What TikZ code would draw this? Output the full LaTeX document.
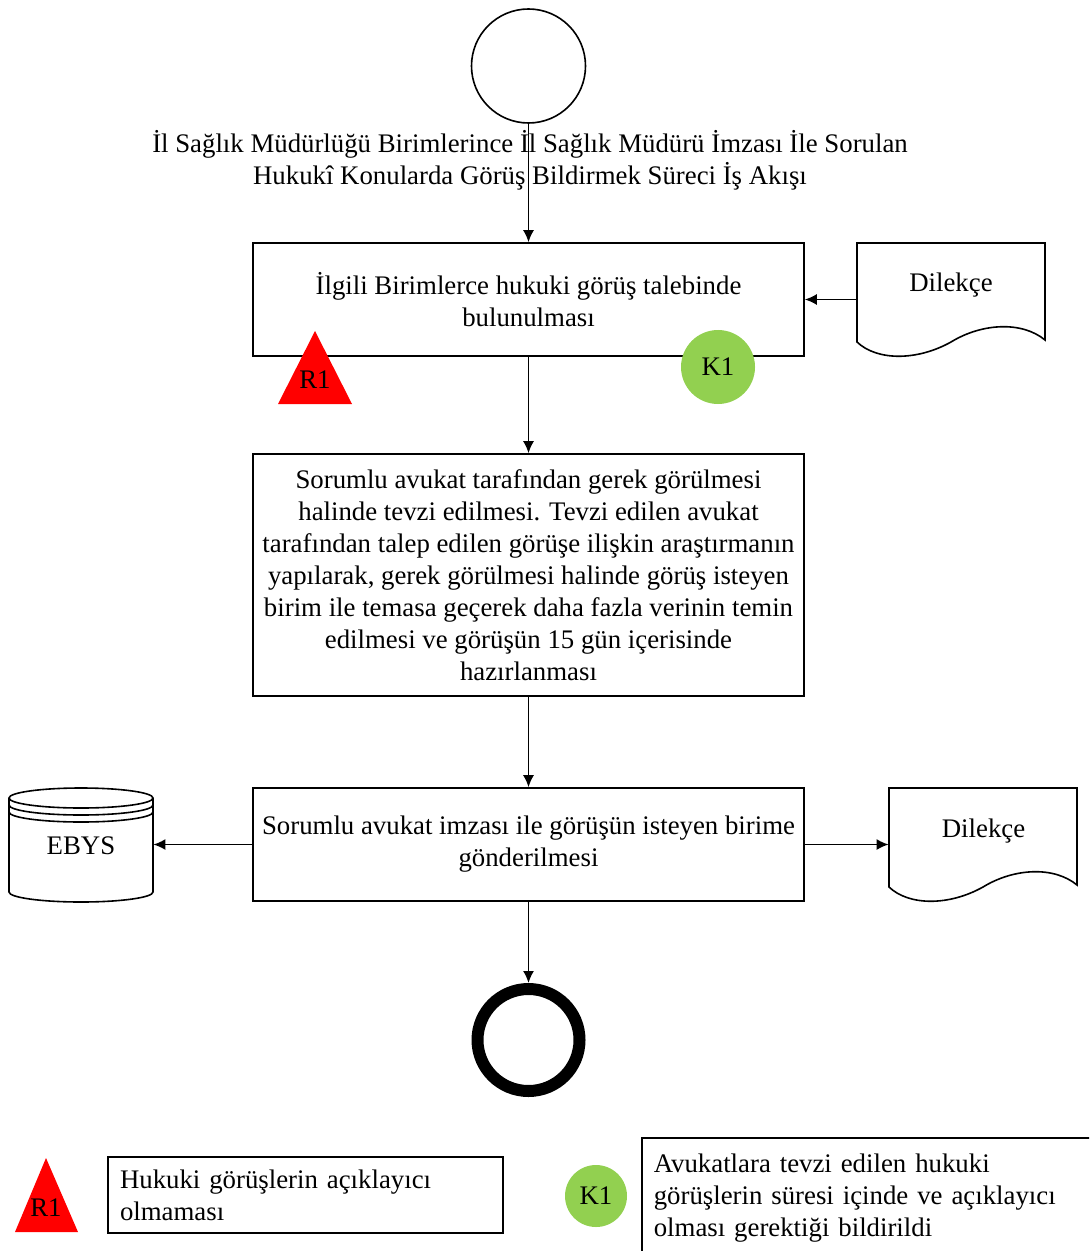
\documentclass[tikz,border=0pt]{standalone}
\usepackage{fontspec}
\setmainfont{Liberation Serif}
\usetikzlibrary{arrows.meta}

\definecolor{riskred}{RGB}{255,0,0}
\definecolor{ctrlgreen}{RGB}{146,208,80}
\newcommand{\flowfont}{\fontsize{13.4}{16}\selectfont}

\tikzset{
    flowbox/.style={draw, line width=0.8pt, minimum width=275.5pt, align=center, font=\flowfont},
    termin/.style={draw, circle, line width=0.8pt, minimum size=57pt, inner sep=0pt},
    flowarrow/.style={line width=0.8pt, -{Latex[length=6pt,width=5.5pt]}},
    notebox/.style={draw, line width=0.8pt, align=left, font=\flowfont, inner xsep=6pt},
    docshape/.pic={
        \draw[line width=0.8pt] (0,99) .. controls (20,118) and (60,118) .. (94,99)
            .. controls (125,80) and (165,78) .. (188,97) -- (188,0) -- (0,0) -- cycle;
    },
    dbshape/.pic={
        \draw[line width=0.8pt] (72,10) ellipse [x radius=36pt, y radius=5pt];
        \draw[line width=0.8pt] (0,17) arc [start angle=180, end angle=360, x radius=36pt, y radius=5pt];
        \draw[line width=0.8pt] (0,24) arc [start angle=180, end angle=360, x radius=36pt, y radius=5pt];
        \draw[line width=0.8pt] (0,10) -- (0,104) arc [start angle=180, end angle=360, x radius=36pt, y radius=5pt] -- (144,10);
    }
}

\begin{document}
\begin{tikzpicture}[x=0.5pt, y=-0.5pt]
    \clip (0,0) rectangle (1089,1251);

    % Start and end
    \node[termin] (start) at (528.5,66) {};
    \node[draw, circle, line width=6pt, minimum size=51pt, inner sep=0pt] (end) at (528.5,1040) {};

    \node[align=center, font=\flowfont] (title) at (530,160)
        {İl Sağlık Müdürlüğü Birimlerince İl Sağlık Müdürü İmzası İle Sorulan\\
         Hukukî Konularda Görüş Bildirmek Süreci İş Akışı};

    % Process boxes
    \node[flowbox, minimum height=56.5pt] (b1) at (528.5,299.5)
        {İlgili Birimlerce hukuki görüş talebinde\\ bulunulması};
    \node[flowbox, minimum height=121pt] (b2) at (528.5,575)
        {Sorumlu avukat tarafından gerek görülmesi\\
         halinde tevzi edilmesi. Tevzi edilen avukat\\
         tarafından talep edilen görüşe ilişkin araştırmanın\\
         yapılarak, gerek görülmesi halinde görüş isteyen\\
         birim ile temasa geçerek daha fazla verinin temin\\
         edilmesi ve görüşün 15 gün içerisinde\\
         hazırlanması};
    \node[flowbox, minimum height=56.5pt] (b3) at (528.5,844.5)
        {Sorumlu avukat imzası ile görüşün isteyen birime\\ gönderilmesi};

    % Documents and database
    \pic at (857,243) {docshape};
    \node[font=\flowfont, minimum width=94pt, inner sep=0pt] (d1) at (951,285) {Dilekçe};
    \pic at (889,788) {docshape};
    \node[font=\flowfont, minimum width=94.5pt, inner sep=0pt] (d2) at (983.5,831) {Dilekçe};
    \pic at (9,788) {dbshape};
    \node[font=\flowfont, minimum width=72pt, inner sep=0pt] (ebys) at (81,846) {EBYS};

    % Risk and control marks
    \fill[riskred] (278,404) -- (315,331) -- (352,404) -- cycle;
    \node[font=\flowfont] (r1) at (315,380) {R1};
    \node[circle, fill=ctrlgreen, minimum size=37pt, inner sep=0pt, font=\flowfont] (k1) at (718,367) {K1};

    % Arrows
    \draw[flowarrow] (start) -- (b1);
    \draw[flowarrow] (d1.west |- b1.east) -- (b1.east);
    \draw[flowarrow] (b1) -- (b2);
    \draw[flowarrow] (b2) -- (b3);
    \draw[flowarrow] (b3.west) -- (b3.west -| ebys.east);
    \draw[flowarrow] (b3.east) -- (b3.east -| d2.west);
    \draw[flowarrow] (b3) -- (end);

    % Legend
    \fill[riskred] (15,1232) -- (46,1158) -- (78,1232) -- cycle;
    \node[font=\flowfont] (r1note) at (46,1208) {R1};
    \node[notebox, text width=185.5pt, minimum height=38pt] (riskbox) at (305.5,1195)
        {Hukuki görüşlerin açıklayıcı\\ olmaması};
    \node[circle, fill=ctrlgreen, minimum size=31pt, inner sep=0pt, font=\flowfont] (k1note) at (596,1196) {K1};
    \node[notebox, text width=215pt, minimum height=60pt, anchor=north west] (ctrlbox) at (641,1137)
        {Avukatlara tevzi edilen hukuki\\
         görüşlerin süresi içinde ve açıklayıcı\\
         olması gerektiği bildirildi};
\end{tikzpicture}
\end{document}
